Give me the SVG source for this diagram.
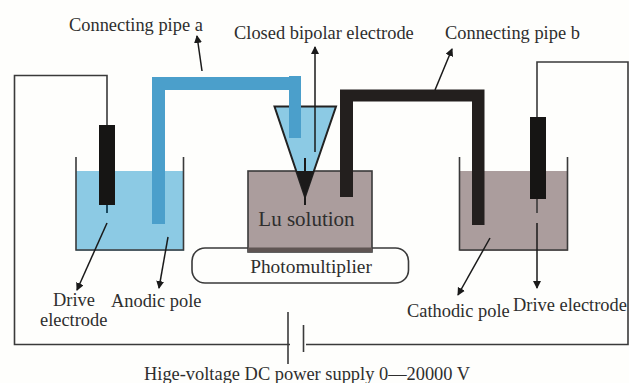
<svg xmlns="http://www.w3.org/2000/svg" width="629" height="383" viewBox="0 0 629 383">
<defs>
<marker id="arr" markerUnits="userSpaceOnUse" markerWidth="8" markerHeight="9" refX="7" refY="4" orient="auto"><path d="M0 0L8 4L0 8Z" fill="#1a1a1a"/></marker>
</defs>
<style>
text{font-family:"Liberation Serif","Times New Roman",serif;font-size:18.4px;fill:#2e2e2e}
.w{fill:none;stroke:#3a3a3a;stroke-width:1.6}
.a{fill:none;stroke:#1a1a1a;stroke-width:1.5;marker-end:url(#arr)}
.bl{fill:#8ccae4}
.br{fill:#ab9d9d}
.pa{fill:#4b9fcb}
.pb{fill:#231f1e}
.e{fill:#161514}
</style>
<rect width="629" height="383" fill="#fefefc"/>
<g id="circuit">
<path class="w" d="M107 125V75.500H14.500V344.500H290"/>
<path class="w" d="M537 118V62H628V344.500H306"/>
<path class="w" d="M288 312V364"/>
<path class="w" d="M303.500 325V352"/>
</g>
<g id="beaker-left">
<rect class="bl" x="76" y="171" width="108" height="80"/>
<path class="w" d="M76 157V250H183.500V157"/>
</g>
<g id="beaker-right">
<rect class="br" x="460" y="171" width="108" height="80"/>
<path class="w" d="M459.500 157V250H567.500V157"/>
</g>
<g id="photomultiplier">
<rect x="192" y="248" width="216.500" height="35" rx="13" fill="#fefefc" stroke="#3a3a3a" stroke-width="1.600"/>
<text x="311" y="273" text-anchor="middle" style="font-size:19.4px">Photomultiplier</text>
</g>
<g id="lu-cell">
<rect class="br" x="248" y="171" width="124" height="81" stroke="#3a3a3a" stroke-width="1.600"/>
<rect x="248" y="247.500" width="124" height="4.500" fill="#5f5553"/>
<text x="306.500" y="226" text-anchor="middle" style="font-size:21px">Lu solution</text>
</g>
<g id="closed-bipolar-electrode">
<path d="M274.500 106.500H336L305 197Z" fill="#8ccae4" stroke="#222" stroke-width="2"/>
<path d="M296.500 171H314L305 197Z" fill="#1b1a1a"/>
<path d="M305 158V205" stroke="#1b1a1a" stroke-width="2"/>
</g>
<g id="pipe-a">
<path class="pa" d="M152 224V77H289V76H301V138H289V90H165V224Z"/>
</g>
<g id="pipe-b">
<path class="pb" d="M340 197V89.500H484.500V225H472V101.500H353V197Z"/>
</g>
<g id="drive-electrode-left">
<rect class="e" x="99" y="125" width="16" height="80"/>
<path d="M107 205V213" stroke="#1b4a60" stroke-width="2"/>
</g>
<g id="drive-electrode-right">
<rect class="e" x="530" y="117" width="16" height="82"/>
<path d="M537 199V213" stroke="#333" stroke-width="1.500"/>
</g>
<g id="connectors">
<path class="a" d="M202 71L197 36"/>
<path class="a" d="M315 152V47"/>
<path class="a" d="M435 90L452 49"/>
<path class="a" d="M107 223L77 290"/>
<path class="a" d="M168 237L159 288"/>
<path class="a" d="M490 238L458 295"/>
<path class="a" d="M537 223V288"/>
</g>
<g id="labels">
<text x="69" y="31">Connecting pipe a</text>
<text x="234" y="39">Closed bipolar electrode</text>
<text x="445" y="39">Connecting pipe b</text>
<text x="53" y="306">Drive</text>
<text x="40" y="325.500">electrode</text>
<text x="111" y="307">Anodic pole</text>
<text x="407" y="317">Cathodic pole</text>
<text x="513" y="311">Drive electrode</text>
<text x="144" y="380">Hige-voltage DC power supply 0—20000 V</text>
</g>
</svg>
